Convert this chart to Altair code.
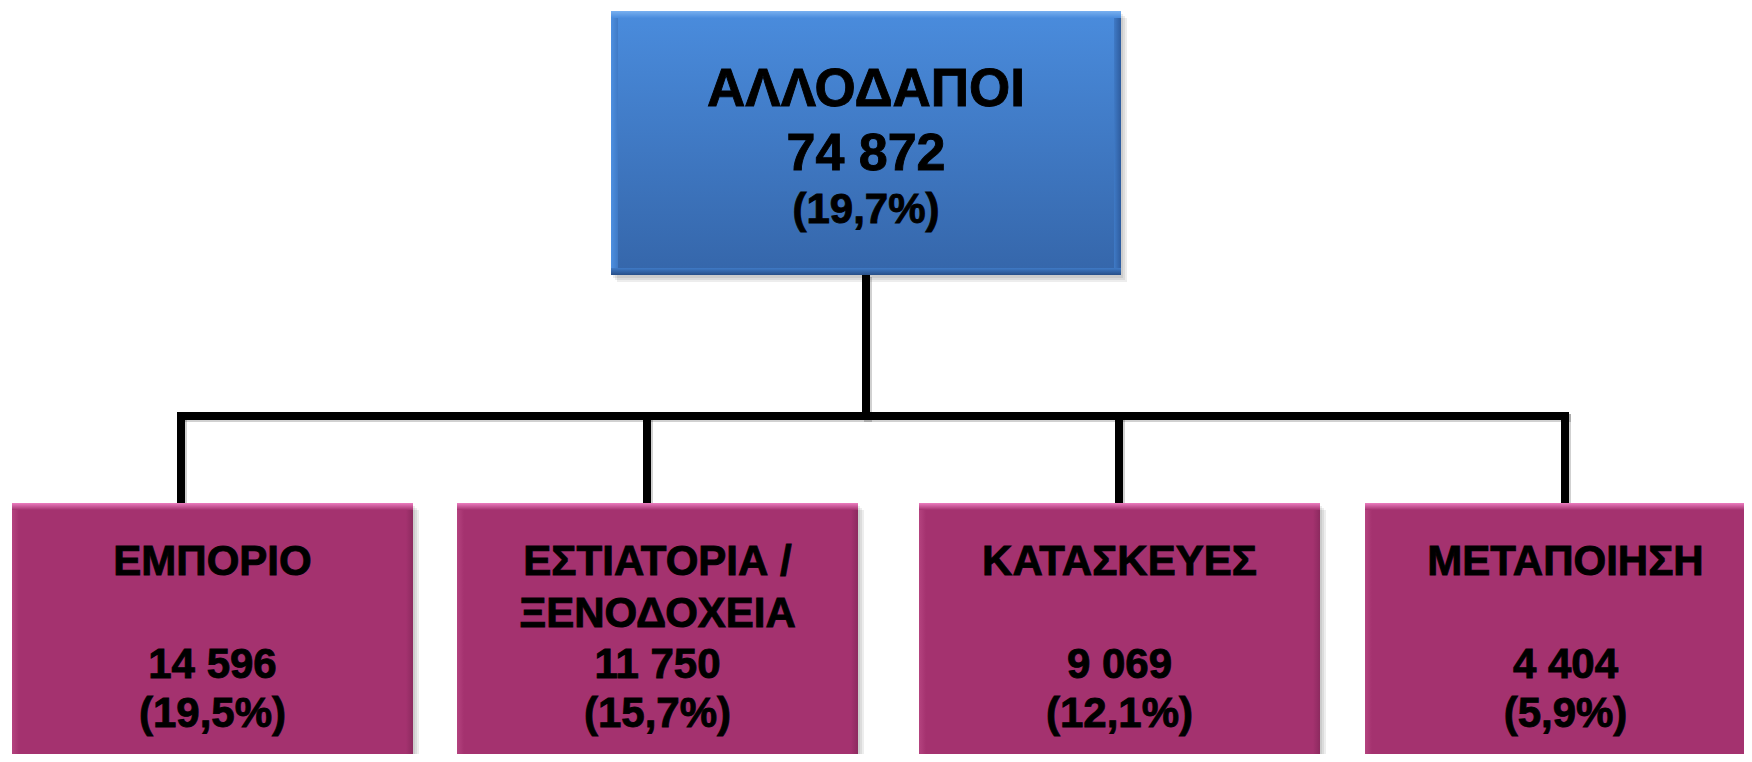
import altair as alt
import pandas as pd

# ---------------- data ----------------
root_name = "ΑΛΛΟΔΑΠΟΙ"
root_value = 74872
root_pct = 19.7

sectors = ["ΕΜΠΟΡΙΟ", "ΕΣΤΙΑΤΟΡΙΑ /\nΞΕΝΟΔΟΧΕΙΑ", "ΚΑΤΑΣΚΕΥΕΣ", "ΜΕΤΑΠΟΙΗΣΗ"]
sector_values = [14596, 11750, 9069, 4404]
sector_pcts = [19.5, 15.7, 12.1, 5.9]

# ---------------- layout (page pixel units) ----------------
ROOT_BOX = (611, 11, 1121, 275)          # x0, y0, x1, y1
CHILD_LEFT = [12, 457, 919, 1365]
CHILD_W = 401
CHILD_TOP = 503
CHILD_BOTTOM = 775
CHILD_LINK_X = [181, 647, 1119, 1565]
ROOT_LINK_X = 866
BUS_Y = 416
LINE_W = 8
BEVEL = 7
FONT = "Liberation Sans"

XS = alt.Scale(domain=[8, 1744], nice=False, zero=False)
YS = alt.Scale(domain=[754, 8], nice=False, zero=False)


def fmt_int(v):
    return f"{v:,}".replace(",", " ")


def fmt_pct(p):
    return "(" + f"{p:.1f}".replace(".", ",") + "%)"


def vgrad(c0, c1):
    return alt.LinearGradient(gradient="linear",
                              stops=[alt.GradientStop(color=c0, offset=0),
                                     alt.GradientStop(color=c1, offset=1)],
                              x1=0, y1=0, x2=0, y2=1)


def hgrad(c0, c1):
    return alt.LinearGradient(gradient="linear",
                              stops=[alt.GradientStop(color=c0, offset=0),
                                     alt.GradientStop(color=c1, offset=1)],
                              x1=0, y1=0, x2=1, y2=0)


def rect_layer(rows, color, opacity=1.0):
    df = pd.DataFrame(rows, columns=["x0", "y0", "x1", "y1"])
    return alt.Chart(df).mark_rect(color=color, opacity=opacity, clip=True).encode(
        x=alt.X("x0:Q", scale=XS, axis=None), x2="x1:Q",
        y=alt.Y("y0:Q", scale=YS, axis=None), y2="y1:Q")


def rule_layer(rows, color="black", opacity=1.0):
    df = pd.DataFrame(rows, columns=["x0", "y0", "x1", "y1"])
    return alt.Chart(df).mark_rule(color=color, strokeWidth=LINE_W, strokeCap="butt",
                                   opacity=opacity, clip=True).encode(
        x=alt.X("x0:Q", scale=XS, axis=None), x2="x1:Q",
        y=alt.Y("y0:Q", scale=YS, axis=None), y2="y1:Q")


def box_layers(boxes, base, top_c, bot_c, light, top_hi, left_hi, right_dk, bottom_dk):
    layers = []
    # soft shadow
    for k in (2, 4, 6):
        layers.append(rect_layer([(x0 + k, y0 + k + 1, x1 + k, y1 + k + 1) for x0, y0, x1, y1 in boxes],
                                 "#000000", 0.07))
    layers.append(rect_layer(boxes, vgrad(top_c, bot_c)))
    b = BEVEL
    layers.append(rect_layer([(x0, y0, x1, y0 + b) for x0, y0, x1, y1 in boxes], vgrad(top_hi, light)))
    layers.append(rect_layer([(x0, y0 + b, x0 + b, y1 - b) for x0, y0, x1, y1 in boxes], hgrad(left_hi, base)))
    layers.append(rect_layer([(x1 - b, y0 + b, x1, y1 - b) for x0, y0, x1, y1 in boxes], hgrad(base, right_dk)))
    layers.append(rect_layer([(x0, y1 - b, x1, y1) for x0, y0, x1, y1 in boxes], vgrad(base, bottom_dk)))
    return layers


# ---------------- boxes ----------------
root_boxes = [ROOT_BOX]
child_boxes = [(l, CHILD_TOP, l + CHILD_W, CHILD_BOTTOM) for l in CHILD_LEFT]

# ---------------- connectors ----------------
links = [(ROOT_LINK_X, ROOT_BOX[3], ROOT_LINK_X, BUS_Y + LINE_W / 2),
         (CHILD_LINK_X[0] - LINE_W / 2, BUS_Y, CHILD_LINK_X[-1] + LINE_W / 2, BUS_Y)]
links += [(cx, BUS_Y - LINE_W / 2, cx, CHILD_TOP) for cx in CHILD_LINK_X]
link_shadow = [(x0 + 2, y0 + 2, x1 + 2, y1 + 2) for x0, y0, x1, y1 in links]

# ---------------- texts ----------------
text_rows = []
rcx = (ROOT_BOX[0] + ROOT_BOX[2]) / 2
text_rows.append(dict(x=rcx, y=106, t=root_name, s=53))
text_rows.append(dict(x=rcx, y=170, t=fmt_int(root_value), s=52))
text_rows.append(dict(x=rcx, y=223, t=fmt_pct(root_pct), s=42))
for (x0, y0, x1, y1), name, v, p in zip(child_boxes, sectors, sector_values, sector_pcts):
    cx = (x0 + x1) / 2
    for j, line in enumerate(name.split("\n")):
        text_rows.append(dict(x=cx, y=575 + 52 * j, t=line, s=42))
    text_rows.append(dict(x=cx, y=678, t=fmt_int(v), s=42))
    text_rows.append(dict(x=cx, y=727, t=fmt_pct(p), s=42))
tdf = pd.DataFrame(text_rows)
texts = alt.Chart(tdf).mark_text(font=FONT, fontWeight="bold", color="black",
                                 stroke="black", strokeWidth=0.9,
                                 align="center", baseline="alphabetic").encode(
    x=alt.X("x:Q", scale=XS, axis=None),
    y=alt.Y("y:Q", scale=YS, axis=None),
    text="t:N",
    size=alt.Size("s:Q", scale=None, legend=None))

layers = []
layers += [rule_layer(link_shadow, "#000000", 0.18)]
layers += [rule_layer(links)]
layers += box_layers(root_boxes, "#3F7AC6", "#4A8CDD", "#3566AA", "#4A8CDD",
                     "#78B0F0", "#4E90E0", "#2E5C9E", "#284F88")
layers += box_layers(child_boxes, "#A4326F", "#A4326F", "#A4326F", "#A4326F",
                     "#EC7DC0", "#B4437F", "#8C2A5F", "#7E2455")
layers += [texts]

chart = alt.layer(*layers).properties(
    width=1736, height=746,
    autosize=alt.AutoSizeParams(type="none"),
    padding=0,
    background="white",
).configure_view(stroke=None)

chart.save("out.html", embed_options={"renderer": "svg", "actions": False})
